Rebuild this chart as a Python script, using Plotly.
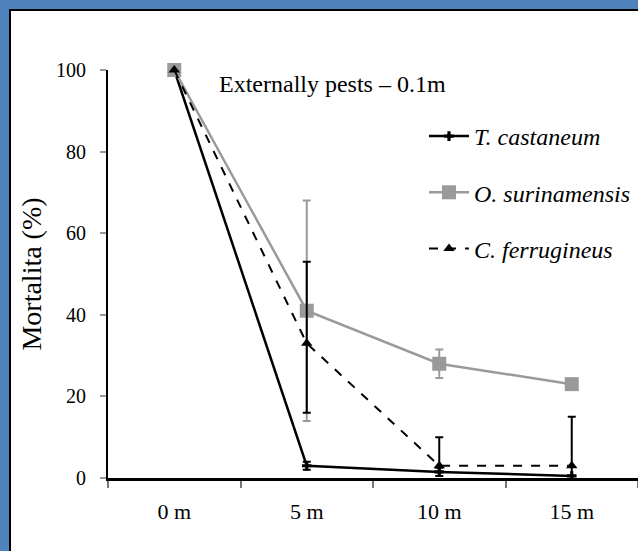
import plotly.graph_objects as go

# ---- data ----
distances = ["0 m", "5 m", "10 m", "15 m"]
y_ticks = [0, 20, 40, 60, 80, 100]

t_castaneum = [100, 3, 1.5, 0.5]
t_castaneum_err = [0, 1, 1, 0]

o_surinamensis = [100, 41, 28, 23]
o_surinamensis_err = [0, 27, 3.5, 1]

c_ferrugineus = [100, 33, 3, 3]
c_ferrugineus_err_plus = [0, 20, 7, 12]
c_ferrugineus_err_minus = [0, 17, 1.5, 4]

title_text = "Externally pests – 0.1m"
y_title = "Mortalita (%)"

FONT = "Liberation Serif"
BLUE = "#4F81BD"
GRAY = "#9a9a9a"

W, H = 638, 551
L, R, T, B = 108, 0, 70, 73
pw = W - L - R
ph = H - T - B


def px2x(px):
    return (px - L) / pw


def py2y(py):
    return (H - B - py) / ph


fig = go.Figure()

fig.add_trace(go.Scatter(
    x=distances, y=t_castaneum, name="T. castaneum", legendgroup="a",
    mode="lines+markers",
    line=dict(color="black", width=2.5),
    marker=dict(symbol="cross", size=8, color="black"),
    error_y=dict(type="data", array=t_castaneum_err, color="black", thickness=2, width=4),
    cliponaxis=False,
))
fig.add_trace(go.Scatter(
    x=distances, y=o_surinamensis, name="O. surinamensis", legendgroup="b",
    mode="lines+markers",
    line=dict(color=GRAY, width=2.5),
    marker=dict(symbol="square", size=14, color=GRAY),
    error_y=dict(type="data", array=o_surinamensis_err, color=GRAY, thickness=2, width=4),
    cliponaxis=False,
))
fig.add_trace(go.Scatter(
    x=distances, y=c_ferrugineus, name="C. ferrugineus", legendgroup="c",
    mode="lines+markers",
    line=dict(color="black", width=2, dash="dash"),
    marker=dict(symbol="triangle-up", size=10, color="black"),
    error_y=dict(type="data", array=c_ferrugineus_err_plus, arrayminus=c_ferrugineus_err_minus,
                 color="black", thickness=2, width=4),
    cliponaxis=False,
))

# frame: blue band top/left, white panel with black edge
fig.add_shape(type="rect", xref="paper", yref="paper",
              x0=px2x(10), x1=px2x(660), y0=py2y(10), y1=py2y(580),
              fillcolor="white", line=dict(color="black", width=2), layer="below")

fig.add_annotation(text=title_text, xref="paper", yref="paper",
                   x=px2x(332), y=py2y(69), showarrow=False,
                   font=dict(family=FONT, size=24, color="black"))

fig.update_layout(
    width=W, height=H,
    margin=dict(l=L, r=R, t=T, b=B, autoexpand=False),
    paper_bgcolor=BLUE,
    plot_bgcolor="rgba(0,0,0,0)",
    font=dict(family=FONT, size=20, color="black"),
    showlegend=True,
    legend=dict(
        x=px2x(424), y=py2y(114), xanchor="left", yanchor="top",
        bgcolor="rgba(0,0,0,0)",
        font=dict(family=FONT, size=24, color="black", style="italic"),
        traceorder="grouped", tracegroupgap=22, itemwidth=40,
    ),
    xaxis=dict(
        type="category", range=[-0.5, 3.5],
        showline=True, linecolor="black", linewidth=3,
        ticks="outside", tickson="boundaries", ticklen=7, tickwidth=2, tickcolor="#777777",
        showgrid=False, zeroline=False,
        ticklabelstandoff=12,
        tickfont=dict(family=FONT, size=22),
    ),
    yaxis=dict(
        range=[0, 100], tickvals=y_ticks,
        showline=True, linecolor="black", linewidth=2,
        ticks="outside", ticklen=6, tickwidth=2, tickcolor="#999999",
        showgrid=False, zeroline=False,
        ticklabelstandoff=10,
        tickfont=dict(family=FONT, size=20),
        title=dict(text=y_title, font=dict(family=FONT, size=28), standoff=6),
    ),
)

fig.write_html("out.html", config={"displayModeBar": False},
               post_script="document.body.style.margin='0px';")
